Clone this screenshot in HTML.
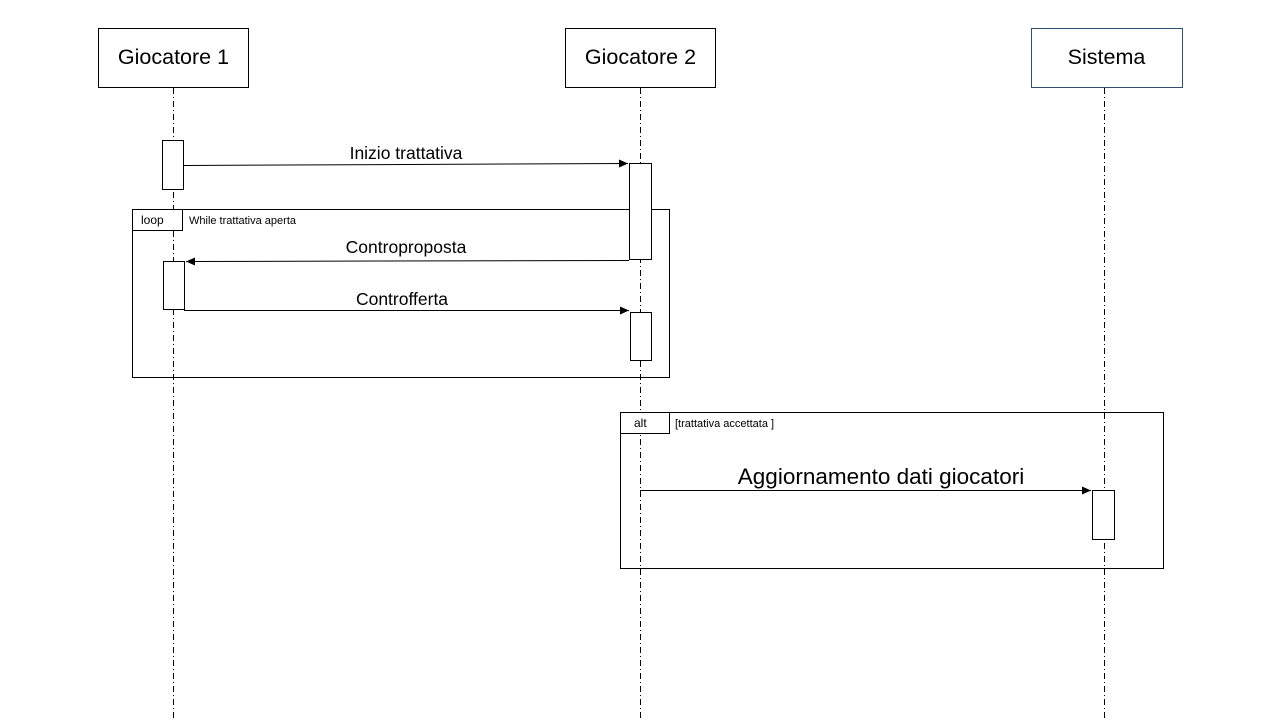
<!DOCTYPE html>
<html><head><meta charset="utf-8"><style>
html,body{margin:0;padding:0;background:#fff;}
svg{display:block;font-family:"Liberation Sans",sans-serif;}
</style></head><body>
<svg width="1280" height="720" viewBox="0 0 1280 720" xmlns="http://www.w3.org/2000/svg">
<defs><marker id="a" markerWidth="10" markerHeight="8" refX="9" refY="4" orient="auto" markerUnits="userSpaceOnUse"><path d="M0,0 L9,4 L0,8 z" fill="#000"/></marker></defs>
<g stroke="#000" stroke-width="1" stroke-dasharray="6,3,1,3" fill="none">
<line x1="173.5" y1="88" x2="173.5" y2="720"/>
<line x1="640.5" y1="88" x2="640.5" y2="720"/>
<line x1="1104.5" y1="88" x2="1104.5" y2="720"/>
</g>
<g fill="#fff" stroke="#000" stroke-width="1">
<rect x="98.5" y="28.5" width="150" height="59"/>
<rect x="565.5" y="28.5" width="150" height="59"/>
<rect x="1031.5" y="28.5" width="151" height="59" stroke="#2f4f6f"/>
</g>
<g font-size="21.5" text-anchor="middle" fill="#000">
<text x="173.5" y="64">Giocatore 1</text>
<text x="640.5" y="64">Giocatore 2</text>
<text x="1106.5" y="64">Sistema</text>
</g>
<g fill="none" stroke="#000" stroke-width="1">
<rect x="132.5" y="209.5" width="537" height="168"/>
<rect x="620.5" y="412.5" width="543" height="156"/>
</g>
<g fill="#fff" stroke="#000" stroke-width="1">
<rect x="132.5" y="209.5" width="50" height="21"/>
<rect x="620.5" y="412.5" width="49" height="21"/>
<rect x="162.5" y="140.5" width="21" height="49"/>
<rect x="629.5" y="163.5" width="22" height="96"/>
<rect x="163.5" y="261.5" width="21" height="48"/>
<rect x="630.5" y="312.5" width="21" height="48"/>
<rect x="1092.5" y="490.5" width="22" height="49"/>
</g>
<g stroke="#000" stroke-width="1" marker-end="url(#a)">
<line x1="184" y1="165.5" x2="628" y2="163.5"/>
<line x1="629" y1="260.5" x2="186" y2="261.5"/>
<line x1="184" y1="310.5" x2="629" y2="310.5"/>
<line x1="640" y1="490.5" x2="1091" y2="490.5"/>
</g>
<g font-size="17.5" text-anchor="middle" fill="#000">
<text x="406" y="159">Inizio trattativa</text>
<text x="406" y="253">Controproposta</text>
<text x="402" y="305">Controfferta</text>
</g>
<text x="881" y="484" font-size="22.5" text-anchor="middle">Aggiornamento dati giocatori</text>
<g font-size="12" fill="#000">
<text x="141" y="224">loop</text>
<text x="189" y="224" font-size="11">While trattativa aperta</text>
<text x="634" y="427">alt</text>
<text x="675" y="427" font-size="11">[trattativa accettata ]</text>
</g>
</svg>
</body></html>
